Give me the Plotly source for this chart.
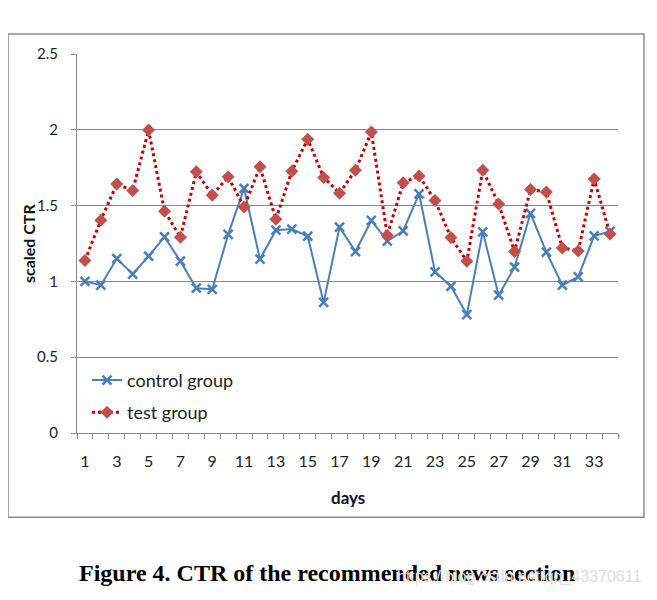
import plotly.graph_objects as go

days = [1, 2, 3, 4, 5, 6, 7, 8, 9, 10, 11, 12, 13, 14, 15, 16, 17,
        18, 19, 20, 21, 22, 23, 24, 25, 26, 27, 28, 29, 30, 31, 32, 33, 34]
control_group = [1.00, 0.975, 1.151, 1.048, 1.166, 1.294, 1.133, 0.955, 0.948, 1.31,
                 1.613, 1.147, 1.338, 1.345, 1.298, 0.861, 1.358, 1.197, 1.402, 1.265,
                 1.333, 1.578, 1.063, 0.968, 0.781, 1.327, 0.909, 1.094, 1.448, 1.193,
                 0.975, 1.03, 1.30, 1.33]
test_group = [1.138, 1.404, 1.642, 1.60, 1.998, 1.463, 1.292, 1.723, 1.569, 1.69,
              1.49, 1.756, 1.41, 1.727, 1.938, 1.686, 1.582, 1.734, 1.985, 1.305,
              1.65, 1.696, 1.534, 1.29, 1.133, 1.734, 1.51, 1.197, 1.606, 1.589,
              1.221, 1.201, 1.675, 1.312]
x_tick_vals = [1, 3, 5, 7, 9, 11, 13, 15, 17, 19, 21, 23, 25, 27, 29, 31, 33]
y_tick_vals = [0, 0.5, 1, 1.5, 2, 2.5]
y_tick_text = ["0", "0.5", "1", "1.5", "2", "2.5"]

FONT = "Lato, 'Open Sans', sans-serif"
GRID = "#8a8a8a"

fig = go.Figure()
fig.add_trace(go.Scatter(
    x=days, y=control_group, name="control group", mode="lines+markers",
    line=dict(color="#4a7ebb", width=2),
    marker=dict(symbol="x-thin", size=9, line=dict(color="#4a7ebb", width=2.5)),
    legend="legend", showlegend=True,
))
fig.add_trace(go.Scatter(
    x=days, y=test_group, name="test group", mode="lines+markers",
    line=dict(color="#c00000", width=3, dash="dot"),
    marker=dict(symbol="diamond", size=10, color="#c0504d"),
    legend="legend2", showlegend=True,
))

# boundary ticks between categories
boundaries = [d - 0.5 for d in days] + [days[-1] + 0.5]

fig.update_layout(
    width=657, height=600,
    showlegend=True,
    paper_bgcolor="white", plot_bgcolor="white",
    margin=dict(l=69, r=47, t=46, b=175.3, pad=0),
    font=dict(family=FONT, size=15, color="#222222"),
    xaxis=dict(
        range=[0.5, 34.5], tickmode="array", tickvals=x_tick_vals,
        ticks="", showgrid=False, showline=True, linecolor=GRID, linewidth=1,
        zeroline=False, ticklabelstandoff=14,
        tickfont=dict(family=FONT, size=16, color="#222222"),
        minor=dict(tickmode="array", tickvals=boundaries, ticks="outside",
                   ticklen=5, tickcolor=GRID, tickwidth=1, showgrid=False),
    ),
    yaxis=dict(
        range=[0, 2.5], tickmode="array", tickvals=y_tick_vals, ticktext=y_tick_text,
        ticks="outside", ticklen=5, tickcolor=GRID, tickwidth=1,
        showgrid=True, gridcolor=GRID, gridwidth=1,
        showline=True, linecolor=GRID, linewidth=1, zeroline=False,
        ticklabelstandoff=10,
        tickfont=dict(family=FONT, size=15, color="#222222"),
    ),
    legend=dict(x=0.0185, y=0.139, xanchor="left", yanchor="middle",
                bgcolor="rgba(0,0,0,0)", font=dict(family=FONT, size=18, color="#222222")),
    legend2=dict(x=0.0185, y=0.054, xanchor="left", yanchor="middle",
                 bgcolor="rgba(0,0,0,0)", font=dict(family=FONT, size=18, color="#222222")),
    shapes=[dict(type="rect", xref="paper", yref="paper",
                 x0=-0.1275, x1=1.048, y0=-0.2226, y1=1.0528,
                 line=dict(color="#8c8c8c", width=1.5), fillcolor="rgba(0,0,0,0)", layer="below")],
    annotations=[
        dict(text="<b>days</b>", xref="paper", yref="paper", x=0.5, y=-0.170,
             showarrow=False, xanchor="center", yanchor="middle",
             font=dict(family=FONT, size=17, color="#111111")),
        dict(text="<b>scaled CTR</b>", xref="paper", yref="paper", x=-0.0906, y=0.501,
             showarrow=False, xanchor="center", yanchor="middle", textangle=-90,
             font=dict(family=FONT, size=16, color="#111111")),
        dict(text="<b>Figure 4. CTR of the recommended news section</b>", xref="paper", yref="paper",
             x=0.462, y=-0.370, showarrow=False, xanchor="center", yanchor="middle",
             font=dict(family="'Liberation Serif', 'Times New Roman', serif", size=24, color="#000000")),
        dict(text="https://blog.csdn.net/qq_43370611", xref="paper", yref="paper",
             x=(395 - 77) / 541, y=(432.7 - 577) / 378.7, showarrow=False,
             xanchor="left", yanchor="middle",
             font=dict(family="'Liberation Sans', Arial, sans-serif", size=16, color="#dedede")),
    ],
)

fig.write_html("out.html")
